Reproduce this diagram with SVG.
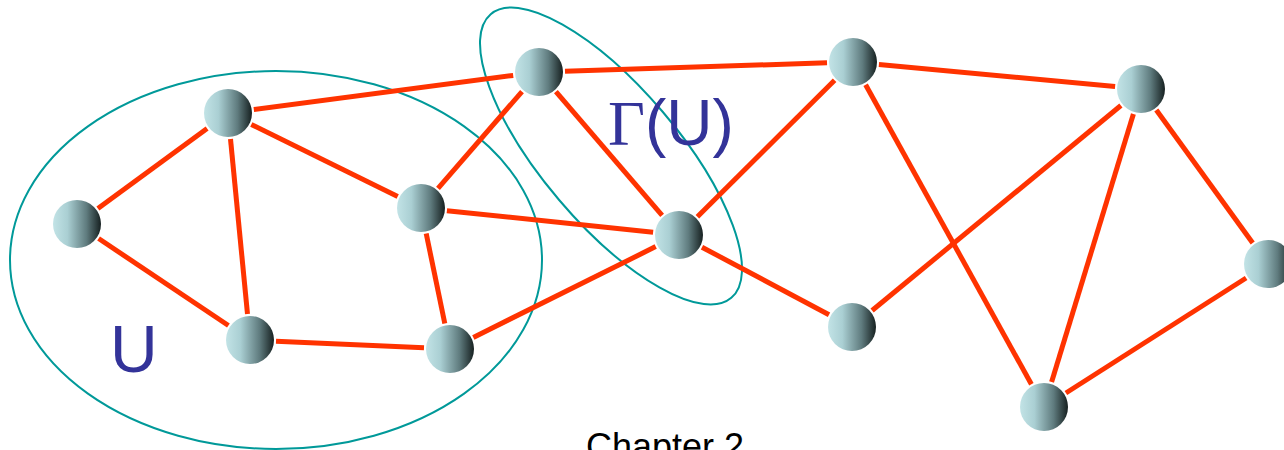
<svg xmlns="http://www.w3.org/2000/svg" width="1284" height="450" viewBox="0 0 1284 450">
<defs>
<linearGradient id="ball" x1="0" y1="0" x2="1" y2="0">
<stop offset="0" stop-color="#c2e3e6"/>
<stop offset="0.3" stop-color="#aacfd3"/>
<stop offset="0.7" stop-color="#5f7b7e"/>
<stop offset="1" stop-color="#162020"/>
</linearGradient>
<style>
.set{fill:none;stroke:#009999;stroke-width:2}
.e{stroke:#ff3300;stroke-width:5;stroke-linecap:butt}
.n{fill:url(#ball)}
.lbl{fill:#333399}
</style>
</defs>
<rect width="1284" height="450" fill="#ffffff"/>
<g id="sets">
<ellipse class="set" cx="276" cy="260" rx="266" ry="189"/>
<ellipse class="set" cx="611" cy="156" rx="186" ry="68" transform="rotate(49.7 611 156)"/>
</g>
<g id="edges">
<line class="e" x1="97.9" y1="208.6" x2="207.1" y2="128.4"/>
<line class="e" x1="98.6" y1="238.5" x2="228.4" y2="325.5"/>
<line class="e" x1="230.5" y1="138.9" x2="247.5" y2="314.1"/>
<line class="e" x1="251.3" y1="124.5" x2="397.7" y2="196.5"/>
<line class="e" x1="253.8" y1="109.6" x2="513.2" y2="75.4"/>
<line class="e" x1="276" y1="341.2" x2="424" y2="347.8"/>
<line class="e" x1="426.2" y1="233.5" x2="444.8" y2="323.5"/>
<line class="e" x1="438" y1="188.4" x2="522" y2="91.6"/>
<line class="e" x1="446.9" y1="210.7" x2="653.1" y2="232.3"/>
<line class="e" x1="473.3" y1="337.4" x2="655.7" y2="246.6"/>
<line class="e" x1="555.9" y1="91.7" x2="662.1" y2="215.3"/>
<line class="e" x1="565" y1="71.2" x2="827" y2="62.8"/>
<line class="e" x1="697.4" y1="216.7" x2="834.6" y2="80.3"/>
<line class="e" x1="702" y1="247.2" x2="829" y2="314.8"/>
<line class="e" x1="878.9" y1="64.4" x2="1115.1" y2="86.6"/>
<line class="e" x1="865.6" y1="84.75" x2="1031.4" y2="384.25"/>
<line class="e" x1="872.1" y1="310.5" x2="1120.9" y2="105.5"/>
<line class="e" x1="1133.4" y1="113.9" x2="1051.6" y2="382.1"/>
<line class="e" x1="1156.3" y1="110" x2="1252.7" y2="243"/>
<line class="e" x1="1246.1" y1="278" x2="1065.9" y2="393"/>
</g>
<g id="n1"><circle class="n" cx="77" cy="224" r="24"/></g>
<g id="n2"><circle class="n" cx="228" cy="113" r="24"/></g>
<g id="n3"><circle class="n" cx="250" cy="340" r="24"/></g>
<g id="n4"><circle class="n" cx="421" cy="208" r="24"/></g>
<g id="n5"><circle class="n" cx="450" cy="349" r="24"/></g>
<g id="n6"><circle class="n" cx="539" cy="72" r="24"/></g>
<g id="n7"><circle class="n" cx="679" cy="235" r="24"/></g>
<g id="n8"><circle class="n" cx="853" cy="62" r="24"/></g>
<g id="n9"><circle class="n" cx="852" cy="327" r="24"/></g>
<g id="n10"><circle class="n" cx="1141" cy="89" r="24"/></g>
<g id="n11"><circle class="n" cx="1268" cy="264" r="24"/></g>
<g id="n12"><circle class="n" cx="1044" cy="407" r="24"/></g>
<g id="labels">
<text class="lbl" x="110" y="372" font-family="Liberation Sans, Arial, sans-serif" font-size="66">U</text>
<text class="lbl" x="608" y="145" font-size="64"><tspan font-family="Liberation Serif, Times New Roman, serif">Γ</tspan><tspan font-family="Liberation Sans, Arial, sans-serif">(U)</tspan></text>
<text x="586" y="459" font-family="Liberation Sans, Arial, sans-serif" font-size="36" fill="#000000">Chapter 2</text>
</g>
</svg>
